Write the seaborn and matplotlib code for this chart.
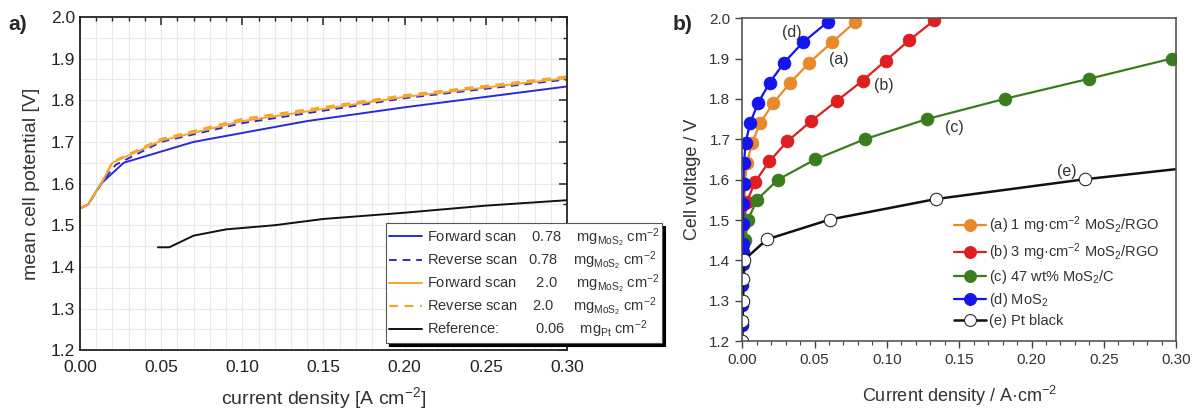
import numpy as np
import pandas as pd
import seaborn as sns
import matplotlib
matplotlib.use("Agg")
import matplotlib.pyplot as plt
from matplotlib.ticker import MultipleLocator

# ---- panel a data: polarisation curves
fwd078_x = [0.0, 0.0, 0.005, 0.013, 0.027, 0.07, 0.14, 0.2, 0.3]
fwd078_y = [1.45, 1.54, 1.55, 1.60, 1.65, 1.70, 1.75, 1.783, 1.833]
rev078_x = [0.0, 0.005, 0.015, 0.022, 0.05, 0.1, 0.2, 0.3]
rev078_y = [1.54, 1.55, 1.61, 1.645, 1.70, 1.745, 1.805, 1.850]
fwd20_x = [0.0, 0.0, 0.005, 0.013, 0.02, 0.05, 0.1, 0.2, 0.3]
fwd20_y = [1.45, 1.54, 1.55, 1.60, 1.65, 1.703, 1.75, 1.808, 1.853]
rev20_x = [0.0, 0.005, 0.013, 0.02, 0.05, 0.1, 0.2, 0.3]
rev20_y = [1.54, 1.55, 1.60, 1.652, 1.707, 1.755, 1.812, 1.857]
ref_x = [0.048, 0.055, 0.07, 0.09, 0.12, 0.15, 0.2, 0.25, 0.3]
ref_y = [1.447, 1.447, 1.475, 1.49, 1.50, 1.515, 1.53, 1.547, 1.56]

legend_a = [
    "Forward scan    0.78    mg$_{\\mathrm{MoS_2}}$ cm$^{-2}$",
    "Reverse scan   0.78    mg$_{\\mathrm{MoS_2}}$ cm$^{-2}$",
    "Forward scan     2.0     mg$_{\\mathrm{MoS_2}}$ cm$^{-2}$",
    "Reverse scan    2.0     mg$_{\\mathrm{MoS_2}}$ cm$^{-2}$",
    "Reference:         0.06    mg$_{\\mathrm{Pt}}$ cm$^{-2}$",
]

# ---- panel b data
a_x = [0.0008, 0.001, 0.0015, 0.002, 0.0032, 0.0067, 0.0124, 0.0216, 0.0332, 0.0465, 0.062, 0.078]
a_y = [1.44, 1.49, 1.54, 1.59, 1.64, 1.69, 1.74, 1.79, 1.84, 1.89, 1.94, 1.99]
b_x = [0.001, 0.0015, 0.0032, 0.009, 0.0187, 0.0313, 0.0477, 0.0654, 0.0832, 0.0993, 0.1154, 0.1329]
b_y = [1.45, 1.50, 1.545, 1.595, 1.645, 1.695, 1.745, 1.795, 1.845, 1.895, 1.945, 1.995]
c_x = [0.0, 0.0021, 0.0039, 0.0102, 0.0247, 0.0505, 0.0846, 0.1277, 0.1814, 0.240, 0.297]
c_y = [1.20, 1.45, 1.50, 1.55, 1.60, 1.65, 1.70, 1.75, 1.80, 1.85, 1.90]
d_x = [0.0, 0.0001, 0.0002, 0.0003, 0.0004, 0.0005, 0.0006, 0.0008, 0.001, 0.0012, 0.0023, 0.0055,
       0.011, 0.019, 0.029, 0.042, 0.059]
d_y = [1.24, 1.29, 1.34, 1.39, 1.42, 1.44, 1.49, 1.54, 1.59, 1.64, 1.69, 1.74, 1.79, 1.84, 1.89, 1.94, 1.99]
e_x = [0.0, 0.0002, 0.0003, 0.0005, 0.0016, 0.0171, 0.0604, 0.134, 0.237, 0.30]
e_y = [1.20, 1.25, 1.30, 1.353, 1.402, 1.452, 1.501, 1.552, 1.601, 1.626]

legend_b = [
    "(a) 1 mg\u00b7cm$^{-2}$ MoS$_2$/RGO",
    "(b) 3 mg\u00b7cm$^{-2}$ MoS$_2$/RGO",
    "(c) 47 wt% MoS$_2$/C",
    "(d) MoS$_2$",
    "(e) Pt black",
]
curve_tags = ["(a)", "(b)", "(c)", "(d)", "(e)"]
tag_x = [0.0667, 0.0978, 0.1464, 0.034, 0.2247]
tag_y = [1.898, 1.832, 1.728, 1.965, 1.621]

sns.set_theme(style="white")
plt.rcParams["font.family"] = ["Liberation Sans", "DejaVu Sans"]
plt.rcParams["mathtext.fontset"] = "custom"
plt.rcParams["mathtext.rm"] = "Liberation Sans"
plt.rcParams["mathtext.it"] = "Liberation Sans:italic"
plt.rcParams["mathtext.bf"] = "Liberation Sans:bold"

fig = plt.figure(figsize=(11.99, 4.12), dpi=100)
ax1 = fig.add_axes([0.0667, 0.150, 0.4062, 0.809])
ax2 = fig.add_axes([0.619, 0.172, 0.362, 0.784])

# ---------------- panel a
blue_a = "#2a2ad8"
orange_a = "#f5a52a"
sns.lineplot(x=fwd078_x, y=fwd078_y, ax=ax1, color=blue_a, lw=1.4, sort=False, estimator=None, label=legend_a[0])
sns.lineplot(x=rev078_x, y=rev078_y, ax=ax1, color=blue_a, lw=1.4, ls=(0, (4, 3)), sort=False, estimator=None, label=legend_a[1])
sns.lineplot(x=fwd20_x, y=fwd20_y, ax=ax1, color=orange_a, lw=1.4, sort=False, estimator=None, label=legend_a[2])
sns.lineplot(x=rev20_x, y=rev20_y, ax=ax1, color=orange_a, lw=1.6, ls=(0, (4, 3)), sort=False, estimator=None, label=legend_a[3])
sns.lineplot(x=ref_x, y=ref_y, ax=ax1, color="#111111", lw=1.4, sort=False, estimator=None, label=legend_a[4])

ax1.set_xlim(0, 0.30)
ax1.set_ylim(1.2, 2.0)
ax1.xaxis.set_major_locator(MultipleLocator(0.05))
ax1.xaxis.set_minor_locator(MultipleLocator(0.01))
ax1.yaxis.set_major_locator(MultipleLocator(0.1))
ax1.yaxis.set_minor_locator(MultipleLocator(0.05))
ax1.xaxis.set_major_formatter(matplotlib.ticker.FormatStrFormatter("%.2f"))
ax1.yaxis.set_major_formatter(matplotlib.ticker.FormatStrFormatter("%.1f"))
ax1.grid(True, which="both", color="#e8e8e8", lw=0.8)
ax1.set_axisbelow(True)
ax1.tick_params(which="both", direction="in", top=True, right=True, colors="#222222", labelsize=12.5)
ax1.tick_params(which="major", length=6, width=1.1)
ax1.tick_params(which="minor", length=3, width=1.0)
ax1.tick_params(axis="x", pad=7)
for s in ax1.spines.values():
    s.set_color("#222222")
    s.set_linewidth(1.3)
ax1.set_xlabel("current density [A cm$^{-2}$]", fontsize=14, color="#333333", labelpad=7)
ax1.set_ylabel("mean cell potential [V]", fontsize=14, color="#333333", labelpad=8)
leg = ax1.legend(loc="upper left", bbox_to_anchor=(386 / 1199, 1 - 223 / 412), bbox_transform=fig.transFigure,
                 fontsize=10.5, frameon=True, fancybox=False, edgecolor="#555555", framealpha=1,
                 shadow={"color": "black", "alpha": 1}, handlelength=2.3, handletextpad=0.3,
                 labelspacing=0.03, borderpad=0.2, borderaxespad=0)
leg.get_frame().set_linewidth(0.8)
for t in leg.get_texts():
    t.set_color("#333333")
fig.text(8 / 1199, 1 - 24 / 412, "a)", fontsize=15, fontweight="bold", va="center")

# ---------------- panel b
colors_b = ["#e8892b", "#dd1f1f", "#3a7d1e", "#1414ee", "#111111"]
series_b = [(a_x, a_y), (b_x, b_y), (c_x, c_y), (d_x, d_y)]
for (xs, ys), col, lab in zip(series_b, colors_b[:4], legend_b[:4]):
    sns.lineplot(x=xs, y=ys, ax=ax2, color=col, lw=1.6, sort=False, estimator=None,
                 marker="o", markersize=9, markeredgecolor=col, label=lab)
sns.lineplot(x=e_x, y=e_y, ax=ax2, color=colors_b[4], lw=1.8, sort=False, estimator=None,
             marker="o", markersize=9, markerfacecolor="white", markeredgecolor="#222222",
             markevery=list(range(len(e_x) - 1)), label=legend_b[4])
# the (c) curve starts without a marker at the axis
ax2.lines[2].set_markevery(list(range(1, len(c_x))))

ax2.set_xlim(0, 0.30)
ax2.set_ylim(1.2, 2.0)
ax2.xaxis.set_major_locator(MultipleLocator(0.05))
ax2.xaxis.set_minor_locator(MultipleLocator(0.01))
ax2.yaxis.set_major_locator(MultipleLocator(0.1))
ax2.xaxis.set_major_formatter(matplotlib.ticker.FormatStrFormatter("%.2f"))
ax2.yaxis.set_major_formatter(matplotlib.ticker.FormatStrFormatter("%.1f"))
ax2.tick_params(which="both", direction="out", bottom=True, left=True, colors="#444444", labelsize=11)
ax2.tick_params(which="major", length=5, width=1.0)
ax2.tick_params(which="minor", length=3, width=0.8)
for t in ax2.get_xticklabels() + ax2.get_yticklabels():
    t.set_color("#333333")
for s in ax2.spines.values():
    s.set_color("#555555")
    s.set_linewidth(1.2)
ax2.set_xlabel("Current density / A\u00b7cm$^{-2}$", fontsize=13, color="#333333", labelpad=12)
ax2.set_ylabel("Cell voltage / V", fontsize=13, color="#333333", labelpad=6)
for tx, ty, tg in zip(tag_x, tag_y, curve_tags):
    ax2.text(tx, ty, tg, fontsize=11.5, color="#333333", ha="center", va="center")
leg2 = ax2.legend(loc="lower right", bbox_to_anchor=(0.99, 0.0), frameon=False, fontsize=10.5,
                  handlelength=2.2, handletextpad=0.2, labelspacing=0.35, markerscale=0.95)
for t in leg2.get_texts():
    t.set_color("#333333")
fig.text(673 / 1199, 1 - 24 / 412, "b)", fontsize=15, fontweight="bold", va="center")

fig.savefig("out.png", dpi=100)
